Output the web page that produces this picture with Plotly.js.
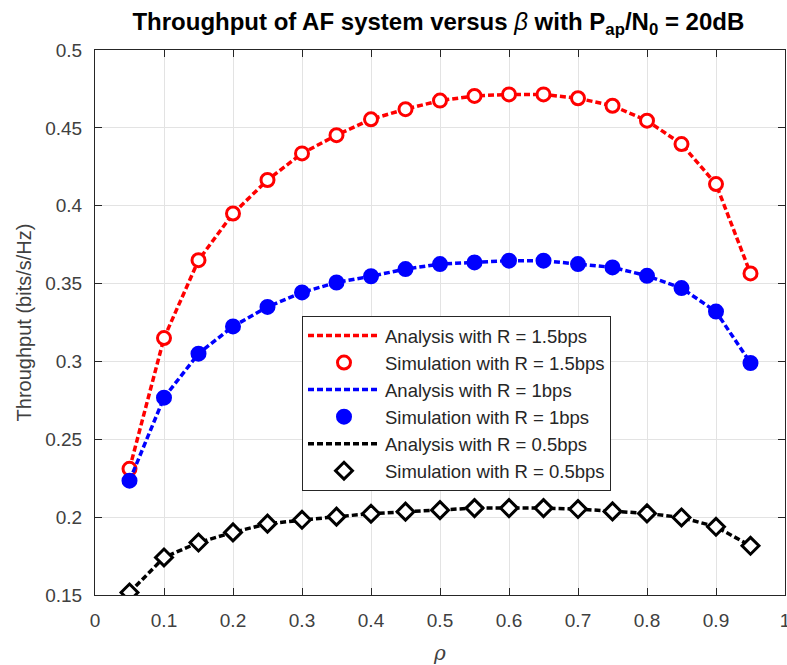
<!DOCTYPE html>
<html>
<head>
<meta charset="utf-8">
<script src="https://cdn.plot.ly/plotly-3.0.1.min.js"></script>
<style>html,body{margin:0;padding:0;background:#fff;}#chart{width:787px;height:665px;}</style>
</head>
<body>
<div id="chart"></div>
<script>
const rho = [0.05,0.1,0.15,0.2,0.25,0.3,0.35,0.4,0.45,0.5,0.55,0.6,0.65,0.7,0.75,0.8,0.85,0.9,0.95];
const thr15 = [0.231,0.315,0.365,0.395,0.4165,0.4336,0.4453,0.4555,0.462,0.4675,0.4705,0.4715,0.4715,0.469,0.4642,0.4546,0.4396,0.4139,0.3565];
const thr10 = [0.2234,0.2767,0.305,0.3225,0.335,0.3443,0.3507,0.3547,0.3593,0.3625,0.3636,0.3647,0.3647,0.3625,0.3604,0.355,0.3471,0.332,0.299];
const thr05 = [0.1516,0.1741,0.1837,0.1902,0.1958,0.1983,0.2003,0.2022,0.2035,0.2045,0.2058,0.2058,0.2058,0.2052,0.2037,0.2024,0.1998,0.1938,0.1816];
const names = ['Analysis with R = 1.5bps','Simulation with R = 1.5bps','Analysis with R = 1bps','Simulation with R = 1bps','Analysis with R = 0.5bps','Simulation with R = 0.5bps'];
const xTicks = [0,0.1,0.2,0.3,0.4,0.5,0.6,0.7,0.8,0.9,1];
const yTicks = [0.15,0.2,0.25,0.3,0.35,0.4,0.45,0.5];

const dash = '6px,3px';
const FONT = 'Liberation Sans, Arial, sans-serif';
function lineTrace(y, color, name){
  return {x: rho, y: y, mode: 'lines', name: name, line: {color: color, width: 3.5, dash: dash}};
}
function markTrace(y, color, name, symbol, fill){
  return {x: rho, y: y, mode: 'markers', name: name,
    marker: {symbol: symbol, size: 13, color: fill, line: {color: color, width: 3}}};
}
const data = [
  lineTrace(thr15, '#ff0000', names[0]),
  markTrace(thr15, '#ff0000', names[1], 'circle', '#ffffff'),
  lineTrace(thr10, '#0000ff', names[2]),
  markTrace(thr10, '#0000ff', names[3], 'circle', '#0000ff'),
  lineTrace(thr05, '#000000', names[4]),
  markTrace(thr05, '#000000', names[5], 'diamond', '#ffffff')
];
const axisCommon = {
  showline: true, linecolor: '#262626', linewidth: 1, mirror: 'ticks',
  ticks: 'inside', ticklen: 7, tickcolor: '#262626', tickwidth: 1,
  showgrid: true, gridcolor: '#e3e3e3', gridwidth: 1, zeroline: false,
  ticklabeloverflow: 'allow',
  tickfont: {family: FONT, size: 19, color: '#404040'}
};
const layout = {
  width: 787, height: 665,
  margin: {l: 95, r: 2, t: 50, b: 70},
  paper_bgcolor: '#ffffff', plot_bgcolor: '#ffffff',
  title: {text: '<b>Throughput of AF system versus </b><i>β</i><b> with P<sub>ap</sub>/N<sub>0</sub> = 20dB</b>',
    xref: 'container', yref: 'container',
    x: 0.557, xanchor: 'center', y: 0.967, yanchor: 'middle',
    font: {family: FONT, size: 24, color: '#000000'}},
  xaxis: Object.assign({}, axisCommon, {range: [0, 1], tickvals: xTicks, ticktext: xTicks.map(String),
    ticklabelstandoff: 8,
    title: {text: '<i>ρ</i>', standoff: 16, font: {family: 'DejaVu Serif, serif', size: 20, color: '#404040'}}}),
  yaxis: Object.assign({}, axisCommon, {range: [0.15, 0.5], tickvals: yTicks, ticktext: yTicks.map(String),
    ticklabelstandoff: 8,
    title: {text: 'Throughput (bits/s/Hz)', standoff: 8, font: {family: FONT, size: 20, color: '#404040'}}}),
  showlegend: true,
  legend: {x: 0.30, y: 0.512, xanchor: 'left', yanchor: 'top',
    bgcolor: '#ffffff', bordercolor: '#262626', borderwidth: 1,
    font: {family: FONT, size: 18.5, color: '#262626'},
    tracegroupgap: 0, itemwidth: 72}
};
Plotly.newPlot('chart', data, layout, {displayModeBar: false, staticPlot: true});
</script>
</body>
</html>
